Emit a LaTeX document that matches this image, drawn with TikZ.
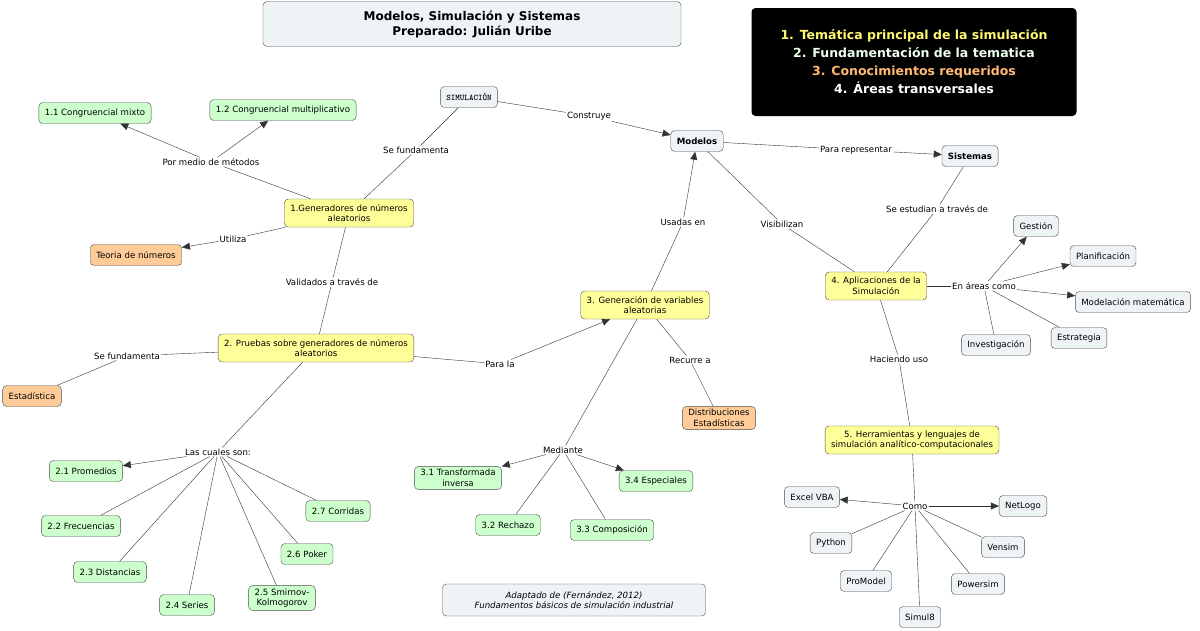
\documentclass[tikz,border=0pt]{standalone}
\usepackage{fontspec}
\setmainfont{DejaVu Sans}
\usepackage{xcolor}
\usetikzlibrary{arrows.meta}
\definecolor{cyellow}{HTML}{FFFF99}
\definecolor{cgreen}{HTML}{CCFFCC}
\definecolor{corange}{HTML}{FFCC99}
\definecolor{cgray}{HTML}{EEF3F6}
\tikzset{
  box/.style={draw=black!70, rounded corners=4pt, align=center, font=\fontsize{8.6}{10.5}\selectfont, inner xsep=6pt, inner ysep=3pt},
  yel/.style={box, fill=cyellow, minimum height=28pt},
  grn/.style={box, fill=cgreen, minimum height=21pt},
  org/.style={box, fill=corange, minimum height=21pt},
  gry/.style={box, fill=cgray, minimum height=21pt},
  lnk/.style={font=\fontsize{8.6}{10.5}\selectfont, fill=white, inner sep=1pt},
  con/.style={draw=black!80},
  arr/.style={con, -{Triangle[length=8pt,width=7pt]}}
}
\begin{document}
\begin{tikzpicture}[x=1pt,y=-1pt]
    \useasboundingbox (0,0) rectangle (1200,630);
    % titles
    \node[box, fill=cgray, minimum width=418pt, minimum height=45pt, font=\bfseries\fontsize{12}{15}\selectfont] (title) at (472,24) {Modelos, Simulación y Sistemas\\Preparado: Julián Uribe};
    \node[fill=black, rounded corners=4pt, minimum width=325pt, minimum height=108pt, align=center, font=\bfseries\fontsize{12.5}{18}\selectfont] (topics) at (914,62)
      {\textcolor{yellow!55}{1. Temática principal de la simulación}\\ \textcolor{green!8}{2. Fundamentación de la tematica}\\ \textcolor{orange!55}{3. Conocimientos requeridos}\\ \textcolor{white}{4. Áreas transversales}};

    % concepts
    \node[gry, font=\bfseries\ttfamily\fontsize{8.6}{10.5}\selectfont] (sim) at (469,97) {SIMULACIÓN};
    \node[gry, font=\bfseries\fontsize{8.6}{10.5}\selectfont] (modelos) at (697,141) {Modelos};
    \node[gry, font=\bfseries\fontsize{8.6}{10.5}\selectfont] (sistemas) at (970,156) {Sistemas};
    \node[yel] (gen1) at (349,213) {1.Generadores de números\\aleatorios};
    \node[yel] (prue2) at (316,348) {2. Pruebas sobre generadores de números\\aleatorios};
    \node[yel] (gen3) at (645,305) {3. Generación de variables\\aleatorias};
    \node[yel] (apl4) at (876,286) {4. Aplicaciones de la\\Simulación};
    \node[yel] (herr5) at (912,440) {5. Herramientas y lenguajes de\\simulación analítico-computacionales};
    \node[grn] (c11) at (95,113) {1.1 Congruencial mixto};
    \node[grn] (c12) at (283,110) {1.2 Congruencial multiplicativo};
    \node[org] (teoria) at (136,255) {Teoria de números};
    \node[org] (estad) at (32,396) {Estadística};
    \node[org] (distr) at (719,418) {Distribuciones\\Estadísticas};
    \node[grn] (p21) at (86,471) {2.1 Promedios};
    \node[grn] (p22) at (81,526) {2.2 Frecuencias};
    \node[grn] (p23) at (110,572) {2.3 Distancias};
    \node[grn] (p24) at (187,605) {2.4 Series};
    \node[grn] (p25) at (282,598) {2.5 Smirnov-\\Kolmogorov};
    \node[grn] (p26) at (307,554) {2.6 Poker};
    \node[grn] (p27) at (338,511) {2.7 Corridas};
    \node[grn] (v31) at (458,478) {3.1 Transformada\\inversa};
    \node[grn] (v32) at (508,525) {3.2 Rechazo};
    \node[grn] (v33) at (612,530) {3.3 Composición};
    \node[grn] (v34) at (656,481) {3.4 Especiales};
    \node[gry] (gestion) at (1036,226) {Gestión};
    \node[gry] (planif) at (1103,256) {Planificación};
    \node[gry] (modmat) at (1133,302) {Modelación matemática};
    \node[gry] (estrat) at (1079,338) {Estrategia};
    \node[gry] (invest) at (996,345) {Investigación};
    \node[gry] (excel) at (812,497) {Excel VBA};
    \node[gry] (netlogo) at (1023,506) {NetLogo};
    \node[gry] (python) at (831,543) {Python};
    \node[gry] (vensim) at (1003,547) {Vensim};
    \node[gry] (promodel) at (866,581) {ProModel};
    \node[gry] (powersim) at (978,584) {Powersim};
    \node[gry] (simul8) at (920,617) {Simul8};
    \node[box, fill=cgray, minimum width=263pt, minimum height=32pt, font=\itshape\fontsize{8.6}{10.5}\selectfont] (fuente) at (574,600) {Adaptado de (Fernández, 2012)\\Fundamentos básicos de simulación industrial};

    % linking phrases
    \node[lnk] (lfund1) at (416,150) {Se fundamenta};
    \node[lnk] (lcons) at (589,116) {Construye};
    \node[lnk] (lmedio) at (211,162) {Por medio de métodos};
    \node[lnk] (luti) at (233,239) {Utiliza};
    \node[lnk] (lvalid) at (332,282) {Validados a través de};
    \node[lnk] (lfund2) at (127,356) {Se fundamenta};
    \node[lnk] (lpara) at (500,364) {Para la};
    \node[lnk] (lcuales) at (218,452) {Las cuales son:};
    \node[lnk] (lusad) at (683,222) {Usadas en};
    \node[lnk] (lrecu) at (690,360) {Recurre a};
    \node[lnk] (lmedi) at (563,450) {Mediante};
    \node[lnk] (lrepr) at (856,150) {Para representar};
    \node[lnk] (lvisi) at (782,224) {Visibilizan};
    \node[lnk] (lestu) at (937,209) {Se estudian a través de};
    \node[lnk] (lareas) at (984,286) {En áreas como};
    \node[lnk] (lhaci) at (899,359) {Haciendo uso};
    \node[lnk] (lcomo) at (915,506) {Como};

    % connections
    \draw[con] (sim) -- (lfund1) -- (gen1);
    \draw[con] (sim) -- (lcons); \draw[arr] (lcons) -- (modelos);
    \draw[con] (gen1) -- (lmedio);
    \draw[arr] (lmedio) -- (c11); \draw[arr] (lmedio) -- (c12);
    \draw[con] (gen1) -- (luti); \draw[arr] (luti) -- (teoria);
    \draw[con] (gen1) -- (lvalid) -- (prue2);
    \draw[con] (prue2) -- (lfund2) -- (estad);
    \draw[con] (prue2) -- (lpara); \draw[arr] (lpara) -- (gen3);
    \draw[con] (prue2) -- (lcuales); \draw[arr] (lcuales) -- (p21);
    \foreach \p in {p22,p23,p24,p25,p26,p27} \draw[con] (lcuales) -- (\p);
    \draw[con] (gen3) -- (lusad); \draw[arr] (lusad) -- (modelos);
    \draw[con] (gen3) -- (lrecu) -- (distr);
    \draw[con] (gen3) -- (lmedi);
    \draw[arr] (lmedi) -- (v31); \draw[arr] (lmedi) -- (v34);
    \draw[con] (lmedi) -- (v32); \draw[con] (lmedi) -- (v33);
    \draw[con] (modelos) -- (lrepr); \draw[arr] (lrepr) -- (sistemas);
    \draw[con] (modelos) -- (lvisi) -- (apl4);
    \draw[con] (sistemas) -- (lestu) -- (apl4);
    \draw[con] (apl4) -- (lareas);
    \foreach \a in {gestion,planif,modmat} \draw[arr] (lareas) -- (\a);
    \foreach \a in {estrat,invest} \draw[con] (lareas) -- (\a);
    \draw[con] (apl4) -- (lhaci) -- (herr5);
    \draw[con] (herr5) -- (lcomo);
    \draw[arr] (lcomo) -- (excel); \draw[arr] (lcomo) -- (netlogo);
    \foreach \t in {python,vensim,promodel,powersim,simul8} \draw[con] (lcomo) -- (\t);
\end{tikzpicture}
\end{document}
